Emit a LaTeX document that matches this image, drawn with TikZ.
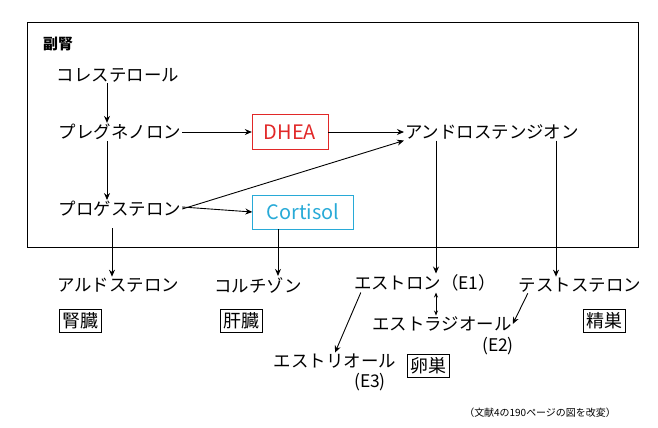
\documentclass[tikz,border=0pt]{standalone}
\usepackage{fontspec}
\setmainfont{Noto Sans CJK JP}
\usetikzlibrary{arrows.meta}
\definecolor{dred}{RGB}{225,40,40}
\definecolor{dcyan}{RGB}{40,170,215}
\begin{document}
\begin{tikzpicture}[x=1bp,y=-1bp,
  t/.style={font=\fontsize{17.5}{19}\selectfont,inner sep=1pt},
  organ/.style={draw,font=\fontsize{18}{20}\selectfont,inner sep=3pt,line width=0.8pt},
  ar/.style={-{Stealth[length=7pt,width=6pt]},line width=0.9pt}]
\useasboundingbox (0,0) rectangle (658,427);
\draw[line width=1pt] (27,22) rectangle (638,247);
\node[t,font=\fontsize{15}{17}\selectfont\bfseries] (fk) at (58,44) {副腎};
\node[t] (chol) at (118,75) {コレステロール};
\node[t] (preg) at (120,132) {プレグネノロン};
\node[t,draw=dred,text=dred,font=\fontsize{20}{22}\selectfont,inner sep=0pt,minimum width=76bp,minimum height=35bp] (dhea) at (290,132) {DHEA};
\node[t] (andro) at (492,132) {アンドロステンジオン};
\node[t] (prog) at (120,209) {プロゲステロン};
\node[t,draw=dcyan,text=dcyan,font=\fontsize{20}{22}\selectfont,inner sep=0pt,minimum width=101bp,minimum height=34bp] (cort) at (303,212) {Cortisol};
\node[t] (aldo) at (118,285) {アルドステロン};
\node[organ] (jin) at (80,321) {腎臓};
\node[t] (cortz) at (258,285) {コルチゾン};
\node[organ] (kan) at (241,321) {肝臓};
\node[t] (e1) at (425,283) {エストロン（E1）};
\node[t] (test) at (580,285) {テストステロン};
\node[organ] (sei) at (604,321) {精巣};
\node[t] (e2) at (442,324) {エストラジオール};
\node[t] (e2l) at (498,346) {(E2)};
\node[t] (e3) at (335,361) {エストリオール};
\node[t] (e3l) at (370,382) {(E3)};
\node[organ] (ran) at (428,366) {卵巣};
\node[t,font=\fontsize{10}{12}\selectfont] (cap) at (540,413) {（文献4の190ページの図を改変）};
\draw[ar] (chol.south -| 107,0) -- (preg.north -| 107,0);
\draw[ar] (preg.south -| 107,0) -- (prog.north -| 107,0);
\draw[ar] (preg.east) -- (dhea.west);
\draw[ar] (dhea.east) -- (andro.west);
\draw[ar] (prog.east) -- (andro.south west);
\draw[ar] ([yshift=2bp]prog.east) -- (cort.west);
\draw[ar] (112,228) -- (aldo.north -| 112,0);
\draw[ar] (cort.south -| 278,0) -- (cortz.north -| 278,0);
\draw[ar] (andro.south -| 436,0) -- (e1.north -| 436,0);
\draw[ar] (andro.south -| 556,0) -- (test.north -| 556,0);
\draw[{Stealth[length=5pt,width=4pt]}-{Stealth[length=5pt,width=4pt]},line width=0.8pt] (e1.south -| 436,0) -- (e2.north -| 436,0);
\draw[ar] ([xshift=10bp]test.south west) -- (e2.east);
\draw[ar] ([xshift=8bp]e1.south west) -- (e3.north);
\end{tikzpicture}
\end{document}
